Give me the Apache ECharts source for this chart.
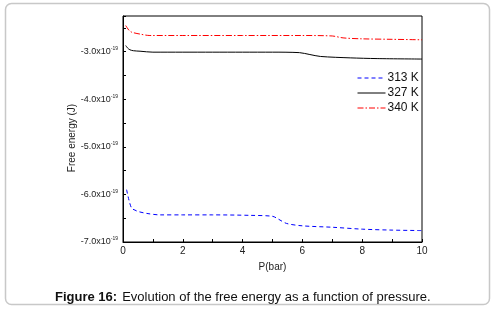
<!DOCTYPE html>
<html>
<head>
<meta charset="utf-8">
<script src="https://cdn.jsdelivr.net/npm/echarts@6/dist/echarts.min.js"></script>
<style>
  html, body { margin: 0; padding: 0; background: #fff; }
  #chart { width: 497px; height: 312px; }
</style>
</head>
<body>
<div id="chart"></div>
<script>
// free energy values in units of 1e-19 J
const p313 = [0.12, 0.2, 0.29, 0.4, 0.51, 0.8, 1.24, 2, 3, 4.25, 5.0, 5.2, 5.47, 6.0, 7, 8, 9, 10];
const e313 = [-5.90, -6.12, -6.29, -6.33, -6.36, -6.40, -6.43, -6.43, -6.43, -6.44, -6.46, -6.52, -6.61, -6.66, -6.69, -6.73, -6.75, -6.76];

const p327 = [0.09, 0.15, 0.23, 0.35, 0.57, 1, 2, 3, 4, 5, 5.9, 6.25, 6.6, 7.6, 8.5, 10];
const e327 = [-2.87, -2.92, -2.96, -2.98, -2.99, -3.01, -3.01, -3.01, -3.01, -3.01, -3.02, -3.06, -3.10, -3.13, -3.145, -3.155];

const p340 = [0.09, 0.2, 0.29, 0.57, 0.9, 2, 4, 6, 7, 7.36, 8, 9, 10];
const e340 = [-2.45, -2.55, -2.59, -2.63, -2.66, -2.66, -2.66, -2.66, -2.67, -2.71, -2.73, -2.74, -2.75];

const seriesNames = ["313 K", "327 K", "340 K"];
const xTickLabels = ["0", "2", "4", "6", "8", "10"];
const yTickLabels = [-7, -6, -5, -4, -3];

const zip = (xs, ys) => xs.map((x, i) => [x, ys[i]]);

const chart = echarts.init(document.getElementById("chart"));

const FONT = "Liberation Sans, Arial, sans-serif";

chart.setOption({
  animation: false,
  backgroundColor: "#fff",
  graphic: [
    {
      type: "rect",
      shape: { x: 5.5, y: 3.5, width: 484, height: 301, r: 6 },
      style: { fill: "none", stroke: "#c8c8c8", lineWidth: 1.5 },
      z: -1,
    },
  ],
  title: {
    text: "{b|Figure 16:} {n|Evolution of the free energy as a function of pressure.}",
    left: 50,
    top: 283,
    textStyle: {
      fontWeight: "normal",
      rich: {
        b: { fontFamily: FONT, fontSize: 13, fontWeight: "bold", color: "#111" },
        n: { fontFamily: FONT, fontSize: 13, fontWeight: "normal", color: "#111" },
      },
    },
  },
  grid: {
    left: 123,
    right: 75,
    top: 16,
    bottom: 70,
    show: true,
    borderColor: "#000",
    borderWidth: 1,
  },
  legend: {
    orient: "vertical",
    left: 352,
    top: 67,
    itemWidth: 28,
    itemHeight: 10,
    itemGap: 3,
    data: seriesNames,
    itemStyle: { opacity: 0, borderWidth: 0 },
    lineStyle: { width: 1 },
    textStyle: { fontFamily: FONT, fontSize: 12, color: "#111", padding: [0, 0, 0, -3] },
  },
  xAxis: {
    type: "value",
    min: 0,
    max: 10,
    interval: 1,
    name: "P(bar)",
    nameLocation: "middle",
    nameGap: 20,
    nameTextStyle: { fontFamily: FONT, fontSize: 10, color: "#222" },
    axisLine: { lineStyle: { color: "#000", width: 1 } },
    axisTick: { inside: true, length: 3, lineStyle: { color: "#000" } },
    splitLine: { show: false },
    axisLabel: {
      fontFamily: FONT,
      fontSize: 10,
      color: "#222",
      margin: 4,
      formatter: (v) => (xTickLabels.includes(String(v)) ? String(v) : ""),
    },
  },
  yAxis: {
    type: "value",
    min: -7,
    max: -2.25,
    interval: 0.5,
    name: "Free energy (J)",
    nameLocation: "middle",
    nameGap: 46,
    nameMoveOverlap: false,
    nameTextStyle: { fontFamily: FONT, fontSize: 10, color: "#222", padding: [0, 18, 0, 0] },
    axisLine: { lineStyle: { color: "#000", width: 1 } },
    axisTick: { inside: true, length: 3, lineStyle: { color: "#000" } },
    splitLine: { show: false },
    axisLabel: {
      margin: 5,
      formatter: (v) =>
        yTickLabels.includes(v) ? "{a|" + v.toFixed(1) + "x10}{s|-19}" : "",
      rich: {
        a: { fontFamily: FONT, fontSize: 9, color: "#222" },
        s: { fontFamily: FONT, fontSize: 5, color: "#222", padding: [0, 0, 6, 0] },
      },
    },
  },
  series: [
    {
      name: seriesNames[0],
      type: "line",
      data: zip(p313, e313),
      symbol: "none",
      smooth: 0.3,
      lineStyle: { color: "#0000ff", width: 1, type: [4, 3] },
      itemStyle: { color: "#0000ff" },
    },
    {
      name: seriesNames[1],
      type: "line",
      data: zip(p327, e327),
      symbol: "none",
      smooth: 0.3,
      lineStyle: { color: "#000", width: 1, type: "solid" },
      itemStyle: { color: "#000" },
    },
    {
      name: seriesNames[2],
      type: "line",
      data: zip(p340, e340),
      symbol: "none",
      smooth: 0.3,
      lineStyle: { color: "#ff0000", width: 1, type: [6, 2, 1.5, 2] },
      itemStyle: { color: "#ff0000" },
    },
  ],
});
</script>
</body>
</html>
